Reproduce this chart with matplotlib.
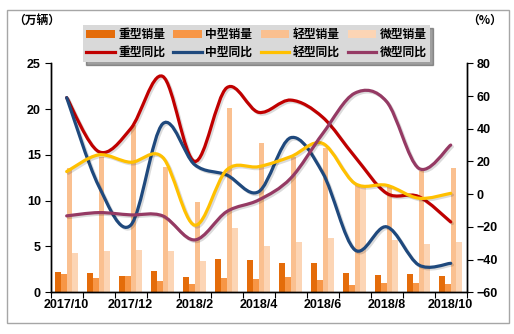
import numpy as np
import matplotlib
matplotlib.use("Agg")
import matplotlib.pyplot as plt
from matplotlib.path import Path
from matplotlib.patches import PathPatch, Rectangle, Patch
from matplotlib.lines import Line2D
import matplotlib.patheffects as pe

plt.rcParams['font.family'] = ['Liberation Sans', 'Noto Sans CJK SC', 'DejaVu Sans']

months = ["2017/10", "2017/11", "2017/12", "2018/1", "2018/2", "2018/3", "2018/4",
          "2018/5", "2018/6", "2018/7", "2018/8", "2018/9", "2018/10"]

# sales, 10k units
heavy_sales = [2.2, 2.1, 1.8, 2.3, 1.7, 3.6, 3.5, 3.2, 3.2, 2.1, 1.9, 2.0, 1.8]
medium_sales = [2.0, 1.6, 1.8, 1.2, 0.9, 1.6, 1.45, 1.65, 1.35, 0.8, 1.05, 1.05, 0.9]
light_sales = [13.6, 14.8, 18.3, 13.7, 9.9, 20.1, 16.3, 14.8, 15.8, 11.7, 11.5, 13.2, 13.6]
micro_sales = [4.25, 4.5, 4.6, 4.5, 3.4, 7.05, 5.05, 5.5, 5.9, 11.5, 5.7, 5.3, 5.5]

# year-on-year, %
heavy_yoy = [59, 26, 40, 72, 20, 65, 50, 57.5, 47, 23, 0.5, -1.5, -17]
medium_yoy = [59, 5, -19, 43, 18, 11.7, 1.5, 34.5, 13, -34, -20, -43.3, -42.3]
light_yoy = [13.8, 24, 19.5, 22.5, -19, 14.8, 16.8, 22.9, 31, 6.6, 5.4, -2.5, 0.5]
micro_yoy = [-13.3, -11.3, -12.7, -13.3, -28, -10.7, -3.6, 9.7, 37, 61.7, 56.5, 15.8, 30]

bar_names = ["重型销量", "中型销量", "轻型销量", "微型销量"]
line_names = ["重型同比", "中型同比", "轻型同比", "微型同比"]
bar_colors = ["#E46C0A", "#F79646", "#FAC090", "#FCD5B5"]
line_colors = ["#C00000", "#1F497D", "#FFC000", "#953A64"]


def smooth_path(x, y):
    # Excel-style smoothed line: cubic Bezier through every data point
    x = np.asarray(x, float)
    y = np.asarray(y, float)
    pts = np.column_stack([x, y])
    ext = np.vstack([pts[0], pts, pts[-1]])
    verts = [pts[0]]
    codes = [Path.MOVETO]
    for i in range(len(pts) - 1):
        p0, p1, p2, p3 = ext[i], ext[i + 1], ext[i + 2], ext[i + 3]
        verts += [p1 + (p2 - p0) / 6.0, p2 - (p3 - p1) / 6.0, p2]
        codes += [Path.CURVE4] * 3
    return Path(verts, codes)


fig = plt.figure(figsize=(5.14, 3.34), dpi=100)
fig.patches.append(Rectangle((7 / 514, 1 - 323 / 334), 502 / 514, 313 / 334,
                             transform=fig.transFigure, fill=False,
                             edgecolor="#a6a6a6", linewidth=1.0))

ax = fig.add_axes([0.0986, 0.125, 0.8094, 0.6855])
ax2 = ax.twinx()

x = np.arange(len(months))
w = 0.18
for k, vals in enumerate([heavy_sales, medium_sales, light_sales, micro_sales]):
    ax.bar(x + (k - 1.5) * w, vals, width=w, color=bar_colors[k], zorder=2)

ax.set_xlim(-0.5, len(months) - 0.5)
ax.set_ylim(0, 25)
ax.set_yticks([0, 5, 10, 15, 20, 25])
ax2.set_ylim(-60, 80)
ax2.set_yticks(np.arange(-60, 81, 20))

for k, vals in enumerate([heavy_yoy, medium_yoy, light_yoy, micro_yoy]):
    patch = PathPatch(smooth_path(x, vals), fill=False, edgecolor=line_colors[k],
                      linewidth=2.3, capstyle="round", zorder=3)
    patch.set_path_effects([pe.SimpleLineShadow(offset=(1.2, -1.2), alpha=0.14,
                                                shadow_color="black"), pe.Normal()])
    ax2.add_patch(patch)

# category boundaries as ticks, labels every other month
ax.set_xticks(np.arange(-0.5, len(months), 1.0))
ax.set_xticklabels([])
ax.set_xticks(x[::2], minor=True)
ax.set_xticklabels(months[::2], minor=True)
ax.tick_params(axis="x", which="minor", length=0, pad=5)
ax.tick_params(axis="x", which="major", length=4, direction="out")

for a in (ax, ax2):
    a.spines["top"].set_visible(False)
    for s in ("left", "right", "bottom"):
        a.spines[s].set_linewidth(1.0)
    for lab in a.get_xticklabels(minor=True) + a.get_yticklabels():
        lab.set_fontweight("bold")
        lab.set_fontsize(9)
ax.tick_params(axis="y", length=4, pad=3)
ax2.tick_params(axis="y", length=4, pad=3)

fig.text(13 / 514, 1 - 20 / 334, "（万辆）", fontsize=8.5, fontweight="bold",
         family=["Noto Sans CJK SC", "DejaVu Sans"], va="center", ha="left")
fig.text(502 / 514, 1 - 20 / 334, "（%）", fontsize=8.5, fontweight="bold",
         family=["Noto Sans CJK SC", "DejaVu Sans"], va="center", ha="right")

handles, labels = [], []
for k in range(4):
    handles.append(Patch(facecolor=bar_colors[k], edgecolor="none"))
    labels.append(bar_names[k])
    handles.append(Line2D([], [], color=line_colors[k], linewidth=2.3))
    labels.append(line_names[k])

leg = fig.legend(handles, labels, ncol=4, loc="center", bbox_to_anchor=(0.499, 0.870),
                 frameon=True, fancybox=False, shadow=True, facecolor="#d9d9d9",
                 edgecolor="none", framealpha=1.0, handlelength=2.4, handleheight=0.6,
                 handletextpad=0.3, columnspacing=0.7, labelspacing=0.35,
                 borderpad=0.3, prop={"family": ["Noto Sans CJK SC", "DejaVu Sans"],
                                      "size": 8.5, "weight": "bold"})
leg.set_zorder(10)

fig.savefig("out.png", dpi=100)
